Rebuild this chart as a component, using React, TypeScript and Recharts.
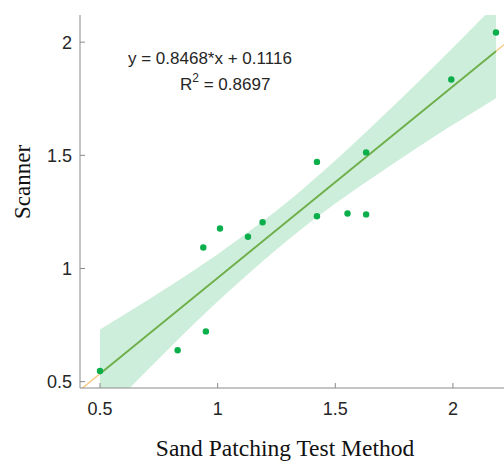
import React from 'react'
import {
	ComposedChart, Line, Area, Scatter, XAxis, YAxis, Label, Customized
} from 'recharts'

// measured points (sand patching vs scanner)
const sandX = [0.5, 0.83, 0.95, 0.939, 1.01, 1.129, 1.191, 1.422, 1.422, 1.552, 1.631, 1.631, 1.993, 2.183]
const scannerY = [0.547, 0.639, 0.722, 1.093, 1.177, 1.14, 1.204, 1.471, 1.231, 1.243, 1.239, 1.513, 1.835, 2.043]

// fitted line y = 0.8468*x + 0.1116
const fitX = [0.5, 2.183]
const fitY = [0.535, 1.96]
// same fit drawn across the whole axis range
const extX = [0.415, 2.217]
const extY = [0.463, 1.989]

// confidence band
const bandX = [0.5, 0.7, 0.9, 1.1, 1.3, 1.5, 1.7, 1.9, 2.183]
const bandLow = [0.339, 0.549, 0.756, 0.948, 1.127, 1.287, 1.431, 1.569, 1.752]
const bandHigh = [0.731, 0.859, 0.992, 1.138, 1.297, 1.477, 1.671, 1.873, 2.168]

const xTicks = [0.5, 1, 1.5, 2]
const yTicks = [0.5, 1, 1.5, 2]

const SANS = "Arial, 'Liberation Sans', sans-serif"
const SERIF = "'Times New Roman', 'Liberation Serif', serif"
const AXIS = '#8a8a8a'

const points = sandX.map((x, i) => ({ x, y: scannerY[i] }))
const fitData = fitX.map((x, i) => ({ x, y: fitY[i] }))
const extData = extX.map((x, i) => ({ x, y: extY[i] }))
const bandData = bandX.map((x, i) => ({ x, band: [bandLow[i], bandHigh[i]] }))

const XTick = ({ x, y, payload }: any) => (
	<g>
		<line x1={x} x2={x} y1={y} y2={y - 5} stroke={AXIS} />
		<text x={x} y={y + 26.5} textAnchor="middle" fontSize={18} fontFamily={SANS} fill="#262626">
			{payload.value}
		</text>
	</g>
)

const YTick = ({ x, y, payload }: any) => (
	<g>
		<line x1={x} x2={x + 5} y1={y} y2={y} stroke={AXIS} />
		<text x={x - 8} y={y} dy="0.36em" textAnchor="end" fontSize={18} fontFamily={SANS} fill="#262626">
			{payload.value}
		</text>
	</g>
)

const Dot = ({ cx, cy }: any) => <circle cx={cx} cy={cy} r={3.2} fill="#0aaf4b" />

const Annotation = () => (
	<g fontFamily={SANS} fontSize={17} fill="#262626">
		<text x={128} y={63.5}>y = 0.8468*x + 0.1116</text>
		<text x={180} y={89.5}>
			R<tspan dy={-8} fontSize={12}>2</tspan><tspan dy={8}> = 0.8697</tspan>
		</text>
	</g>
)

export default function App() {
	return (
		<div style={{ position: 'absolute', left: 0, top: 0, width: 504, height: 462, background: '#fff' }}>
			<ComposedChart width={504} height={462} data={bandData} margin={{ top: 15, right: 0, bottom: 0, left: 0 }}>
				<XAxis
					type="number"
					dataKey="x"
					domain={[0.415, 2.217]}
					ticks={xTicks}
					allowDataOverflow
					height={74}
					tickSize={0}
					tickMargin={0}
					tickLine={false}
					axisLine={{ stroke: AXIS }}
					tick={<XTick />}
				>
					<Label
						content={({ viewBox }: any) => (
							<text
								x={viewBox.x + viewBox.width / 2 - 7}
								y={455.5}
								textAnchor="middle"
								fontSize={23.5}
								fontFamily={SERIF}
								fill="#111"
							>
								Sand Patching Test Method
							</text>
						)}
					/>
				</XAxis>
				<YAxis
					type="number"
					domain={[0.472, 2.12]}
					ticks={yTicks}
					allowDataOverflow
					width={80}
					tickSize={0}
					tickMargin={0}
					tickLine={false}
					axisLine={{ stroke: AXIS }}
					tick={<YTick />}
				>
					<Label
						content={() => (
							<text
								x={22}
								y={182}
								transform="rotate(-90, 22, 182)"
								textAnchor="middle"
								dominantBaseline="central"
								fontSize={23}
								fontFamily={SERIF}
								fill="#111"
							>
								Scanner
							</text>
						)}
					/>
				</YAxis>
				<Area
					dataKey="band"
					type="monotone"
					stroke="none"
					fill="#cdeeda"
					fillOpacity={1}
					isAnimationActive={false}
				/>
				<Line
					data={extData}
					dataKey="y"
					type="linear"
					stroke="#f6c47a"
					strokeWidth={1.3}
					dot={false}
					activeDot={false}
					isAnimationActive={false}
				/>
				<Line
					data={fitData}
					dataKey="y"
					type="linear"
					stroke="#6ab04c"
					strokeWidth={1.8}
					dot={false}
					activeDot={false}
					isAnimationActive={false}
				/>
				<Scatter data={points} dataKey="y" shape={<Dot />} isAnimationActive={false} />
				<Customized component={Annotation} />
			</ComposedChart>
		</div>
	)
}
